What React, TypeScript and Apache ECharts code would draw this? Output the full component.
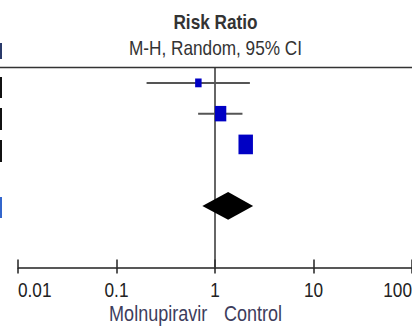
import React, { useEffect, useRef } from "react";
import * as echarts from "echarts";

// ---- data ----
const studyRows = [0, 1, 2];
const estimates = [0.678, 1.14, 2.05];
const lowerCI = [0.202, 0.674, 1.85];
const upperCI = [2.26, 1.9, 2.25];
const weights = [11, 34, 55];

const pooledRow = [4];
const pooledEstimate = [1.36];
const pooledLower = [0.744];
const pooledUpper = [2.44];

const tickValues = [0.01, 0.1, 1, 10, 100];
const tickLabels = ["0.01", "0.1", "1", "10", "100"];

const titleLines = ["Risk Ratio", "M-H, Random, 95% CI"];
const favoursLabels = ["Molnupiravir", "Control"];

const FONT = "'Liberation Sans', Arial, sans-serif";
const NARROW = 0.82;

export default function App() {
  const ref = useRef<HTMLDivElement>(null);

  useEffect(() => {
    if (!ref.current) return;
    const chart = echarts.init(ref.current, null, { renderer: "svg" });

    const ciData = studyRows.map((r, i) => [lowerCI[i], upperCI[i], r]);
    const pointData = studyRows.map((r, i) => [estimates[i], r]);
    const diamondData = pooledRow.map((r, i) => [pooledLower[i], pooledEstimate[i], pooledUpper[i], r]);

    const gridRect = { left: 18, top: 67.5, width: 396, height: 200, containLabel: false };
    const logAxisBase = {
      type: "log",
      logBase: 10,
      min: 0.01,
      max: 100,
      position: "bottom",
      splitLine: { show: false },
      axisLabel: { show: false },
    };

    chart.setOption({
      animation: false,
      grid: [gridRect, { ...gridRect }],
      xAxis: [
        {
          ...logAxisBase,
          gridIndex: 0,
          axisLine: { show: true, onZero: false, lineStyle: { color: "#222", width: 1.5 } },
          axisTick: { show: true, inside: true, length: 8, lineStyle: { color: "#222", width: 1.5 } },
        },
        {
          ...logAxisBase,
          gridIndex: 1,
          axisLine: { show: false, onZero: false },
          axisTick: { show: true, inside: false, length: 6, lineStyle: { color: "#222", width: 1.5 } },
        },
      ],
      yAxis: [
        { type: "value", gridIndex: 0, inverse: true, min: -0.5, max: 6, show: false },
        { type: "value", gridIndex: 1, inverse: true, min: -0.5, max: 6, show: false },
      ],
      series: [
        {
          type: "custom",
          name: "CI",
          xAxisIndex: 0,
          yAxisIndex: 0,
          renderItem: (params: any, api: any) => {
            const lo = api.coord([api.value(0), api.value(2)]);
            const hi = api.coord([api.value(1), api.value(2)]);
            return {
              type: "line",
              shape: { x1: lo[0], y1: lo[1], x2: hi[0], y2: hi[1] },
              style: { stroke: "#555", lineWidth: 2 },
            };
          },
          encode: { x: [0, 1], y: 2 },
          data: ciData,
          z: 3,
        },
        {
          type: "scatter",
          name: "Estimates",
          xAxisIndex: 0,
          yAxisIndex: 0,
          symbol: "rect",
          symbolSize: (_v: any, p: any) => {
            const s = Math.sqrt(weights[p.dataIndex]);
            return [s * 1.95, s * 2.65];
          },
          itemStyle: { color: "#0000c4", opacity: 1 },
          data: pointData,
          z: 4,
          markLine: {
            silent: true,
            symbol: "none",
            label: { show: false },
            lineStyle: { color: "#333", width: 1.5, type: "solid" },
            data: [{ xAxis: 1 }],
            z: 2,
          },
        },
        {
          type: "custom",
          name: "Pooled",
          xAxisIndex: 0,
          yAxisIndex: 0,
          renderItem: (params: any, api: any) => {
            const y = api.value(3);
            const l = api.coord([api.value(0), y]);
            const e = api.coord([api.value(1), y]);
            const u = api.coord([api.value(2), y]);
            const h = api.size([0, 0.45])[1];
            return {
              type: "polygon",
              shape: { points: [[l[0], l[1]], [e[0], e[1] - h], [u[0], u[1]], [e[0], e[1] + h]] },
              style: { fill: "#000" },
            };
          },
          encode: { x: [0, 1, 2], y: 3 },
          data: diamondData,
          z: 5,
        },
      ],
    });

    // tick labels placed through the axis scale
    const tickTexts = tickValues.map((v, i) => {
      const px = chart.convertToPixel({ xAxisIndex: 0 }, v) as number;
      const align = i === 0 ? "left" : i === tickValues.length - 1 ? "right" : "center";
      return {
        type: "text",
        x: px,
        y: 290,
        scaleX: NARROW,
        style: { text: tickLabels[i], fontFamily: FONT, fontSize: 21, fill: "#222", textAlign: align, textVerticalAlign: "middle" },
      };
    });

    chart.setOption({
      graphic: [
        {
          type: "text",
          x: 215.5,
          y: 21.5,
          scaleX: NARROW,
          style: { text: titleLines[0], fontFamily: FONT, fontWeight: "bold", fontSize: 21, fill: "#333", textAlign: "center", textVerticalAlign: "middle" },
        },
        {
          type: "text",
          x: 215.5,
          y: 48,
          scaleX: NARROW,
          style: { text: titleLines[1], fontFamily: FONT, fontSize: 21, fill: "#333", textAlign: "center", textVerticalAlign: "middle" },
        },
        {
          type: "text",
          x: 207.3,
          y: 313.5,
          scaleX: NARROW,
          style: { text: favoursLabels[0], fontFamily: FONT, fontSize: 22, fill: "#3d3d5c", textAlign: "right", textVerticalAlign: "middle" },
        },
        {
          type: "text",
          x: 224,
          y: 313.5,
          scaleX: NARROW,
          style: { text: favoursLabels[1], fontFamily: FONT, fontSize: 22, fill: "#3d3d5c", textAlign: "left", textVerticalAlign: "middle" },
        },
        ...tickTexts,
        { type: "line", shape: { x1: 0, y1: 67.5, x2: 412, y2: 67.5 }, style: { stroke: "#333", lineWidth: 1.5 } },
        { type: "rect", shape: { x: 0, y: 43, width: 2, height: 16 }, style: { fill: "#2a3a6a" } },
        { type: "rect", shape: { x: 0, y: 77, width: 2, height: 21 }, style: { fill: "#111" } },
        { type: "rect", shape: { x: 0, y: 108, width: 2, height: 22 }, style: { fill: "#111" } },
        { type: "rect", shape: { x: 0, y: 140, width: 2, height: 22 }, style: { fill: "#111" } },
        { type: "rect", shape: { x: 0, y: 197, width: 2, height: 21 }, style: { fill: "#3366cc" } },
      ],
    });

    return () => chart.dispose();
  }, []);

  return (
    <div
      ref={ref}
      style={{ position: "fixed", left: 0, top: 0, width: 412, height: 326, background: "#fff" }}
    />
  );
}
